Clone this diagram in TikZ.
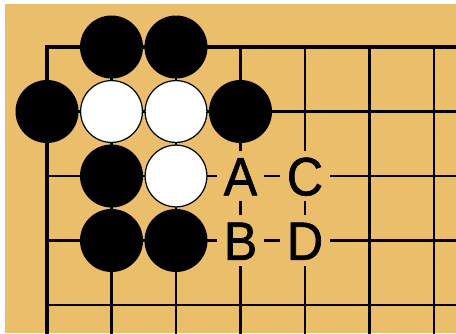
\documentclass[tikz,border=0pt]{standalone}
\usepackage{fontspec}
\newfontfamily\goLabelFont{Liberation Sans}[FakeBold=1.2, FakeStretch=0.93]
\usepackage{tikz}
\usetikzlibrary{positioning}
\definecolor{goBoard}{HTML}{EABE6A}
\definecolor{goMargin}{HTML}{FFFFFF}
\tikzset{
    goGrid/.style={draw=black, line width=2.4pt},
    goEdge/.style={draw=black, line width=4.5pt, miter limit=10},
    % Stones
    goStoneBase/.style={circle, inner sep=0pt, minimum size=63pt},
    blackStone/.style={goStoneBase, fill=black},
    whiteStone/.style={goStoneBase, fill=white, draw=black, line width=1.2pt, minimum size=61.8pt},
    % Point labels
    pointLabel/.style={
        fill=goBoard,
        inner xsep=7pt,
        inner ysep=6pt,
        text height=38.7pt,
        text depth=0pt,
        font=\goLabelFont\fontsize{54}{54}\selectfont
    }
}

\begin{document}
\begin{tikzpicture}[x=64.5pt, y=-64.5pt]
\useasboundingbox (-0.7287,-0.7287) rectangle (6.3411,4.4341);
\fill[goMargin] (-0.7287,-0.7287) rectangle (6.3411,4.4341);
\fill[goBoard] (-0.6512,-0.6667) rectangle (6.3411,4.4341);

% grid
\foreach \i in {1,...,6}
    \draw[goGrid] (\i,0) -- (\i,4.5);
\foreach \j in {1,...,4}
    \draw[goGrid] (0,\j) -- (6.4,\j);
\draw[goEdge] (6.4,0) -- (0,0) -- (0,4.5);

% stones
\node[blackStone] (b10) at (1,0) {};
\node[blackStone] (b20) at (2,0) {};
\node[blackStone] (b01) at (0,1) {};
\node[whiteStone] (w11) at (1,1) {};
\node[whiteStone] (w21) at (2,1) {};
\node[blackStone] (b31) at (3,1) {};
\node[blackStone] (b12) at (1,2) {};
\node[whiteStone] (w22) at (2,2) {};
\node[blackStone] (b13) at (1,3) {};
\node[blackStone] (b23) at (2,3) {};

% labelled points
\node[pointLabel] (ptA) at (3,2) {A};
\node[pointLabel] (ptC) at (4,2) {C};
\node[pointLabel] (ptB) at (3,3) {B};
\node[pointLabel] (ptD) at (4,3) {D};
\end{tikzpicture}
\end{document}
